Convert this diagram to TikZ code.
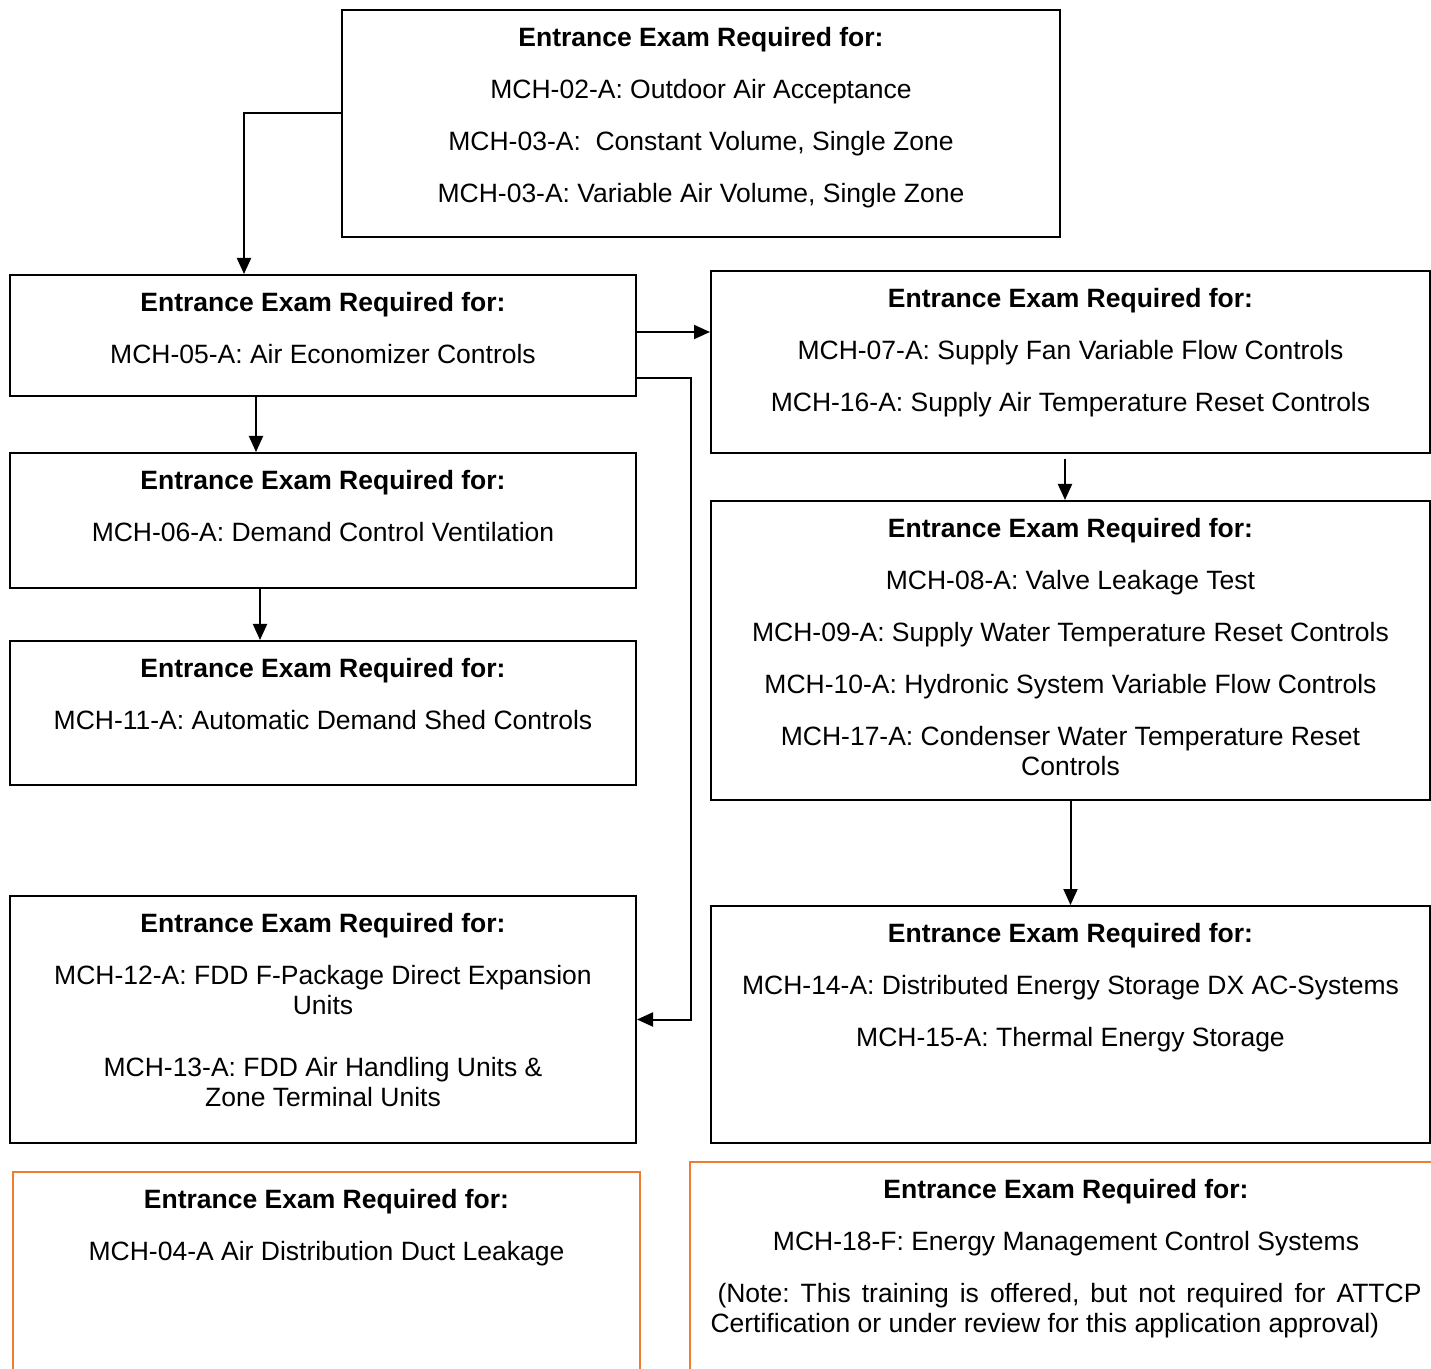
\documentclass[tikz,border=0pt]{standalone}
\usepackage{fontspec}
\setmainfont{Liberation Sans}
\usepackage{tikz}
\usetikzlibrary{arrows.meta, positioning, calc}
\definecolor{optional}{RGB}{237, 125, 49}
\newcommand{\examhead}{\textbf{Entrance Exam Required for:}}
\frenchspacing

\begin{document}
\begin{tikzpicture}[x=0.5pt, y=-0.5pt,
    exambox/.style={draw=black, line width=1pt, inner sep=0pt},
    optbox/.style={draw=optional, line width=1pt, inner sep=0pt},
    examtext/.style={anchor=north, inner sep=0pt, yshift=-8.75pt, align=center,
      font=\fontsize{13.25}{15}\selectfont},
    arr/.style={line width=1pt, -{Triangle[length=8pt, width=7pt]}}]
  \clip (0, 0) rectangle (1431, 1369);

  % Top box
  \node[exambox, minimum width=359pt, minimum height=113.5pt] (A) at (701, 123.5) {};
  \node[examtext] (Atext) at (A.north) {\examhead\\[11pt]
    MCH-02-A: Outdoor Air Acceptance\\[11pt]
    MCH-03-A:\ \ Constant Volume, Single Zone\\[11pt]
    MCH-03-A: Variable Air Volume, Single Zone};

  % Left column
  \node[exambox, minimum width=313pt, minimum height=60.5pt] (B) at (323, 335.5) {};
  \node[examtext] (Btext) at (B.north) {\examhead\\[11pt]
    MCH-05-A: Air Economizer Controls};

  \node[exambox, minimum width=313pt, minimum height=67.5pt] (D) at (323, 520.5) {};
  \node[examtext] (Dtext) at (D.north) {\examhead\\[11pt]
    MCH-06-A: Demand Control Ventilation};

  \node[exambox, minimum width=313pt, minimum height=72pt] (F) at (323, 713) {};
  \node[examtext] (Ftext) at (F.north) {\examhead\\[11pt]
    MCH-11-A: Automatic Demand Shed Controls};

  \node[exambox, minimum width=313pt, minimum height=123.5pt] (G) at (323, 1019.5) {};
  \node[examtext] (Gtext) at (G.north) {\examhead\\[11pt]
    MCH-12-A: FDD F-Package Direct Expansion\\Units\\[16pt]
    MCH-13-A: FDD Air Handling Units \&\\Zone Terminal Units};

  % Right column
  \node[exambox, minimum width=359.5pt, minimum height=91pt] (C) at (1070.5, 362) {};
  \node[examtext] (Ctext) at (C.north) {\examhead\\[11pt]
    MCH-07-A: Supply Fan Variable Flow Controls\\[11pt]
    MCH-16-A: Supply Air Temperature Reset Controls};

  \node[exambox, minimum width=359.5pt, minimum height=149.5pt] (E) at (1070.5, 650.5) {};
  \node[examtext] (Etext) at (E.north) {\examhead\\[11pt]
    MCH-08-A: Valve Leakage Test\\[11pt]
    MCH-09-A: Supply Water Temperature Reset Controls\\[11pt]
    MCH-10-A: Hydronic System Variable Flow Controls\\[11pt]
    MCH-17-A: Condenser Water Temperature Reset\\Controls};

  \node[exambox, minimum width=359.5pt, minimum height=118.5pt] (H) at (1070.5, 1024.5) {};
  \node[examtext] (Htext) at (H.north) {\examhead\\[11pt]
    MCH-14-A: Distributed Energy Storage DX AC-Systems\\[11pt]
    MCH-15-A: Thermal Energy Storage};

  % Optional (orange) boxes
  \node[optbox, minimum width=313.5pt, minimum height=109pt] (I) at (326.5, 1281) {};
  \node[examtext] (Itext) at (I.north) {\examhead\\[11pt]
    MCH-04-A Air Distribution Duct Leakage};

  \node[optbox, minimum width=377.5pt, minimum height=114pt] (J) at (1067.5, 1276) {};
  \node[examtext] (Jtext) at ([xshift=-0.75pt]J.north) {\examhead\\[11pt]
    MCH-18-F: Energy Management Control Systems\\[11pt]
    \parbox[t]{355.5pt}{\hspace*{3.5pt}(Note: This training is offered, but not required for ATTCP\linebreak
      Certification or under review for this application approval)}};

  % Connectors
  \draw[arr] ([yshift=5.25pt]A.west) -| ([xshift=-39.5pt]B.north);
  \coordinate (bc) at ([yshift=1.75pt]B.east);
  \draw[arr] (bc) -- (bc -| C.west);
  \draw[arr] ([yshift=-21.25pt]B.east) -- ++(27pt, 0) |- (G.east);
  \draw[arr] ([xshift=-33.5pt]B.south) -- ([xshift=-33.5pt]D.north);
  \draw[arr] ([xshift=-31.5pt]D.south) -- ([xshift=-31.5pt]F.north);
  \draw[arr] ([xshift=-2.75pt, yshift=-2.5pt]C.south) -- ([xshift=-2.75pt]E.north);
  \draw[arr] (E.south) -- (H.north);
\end{tikzpicture}
\end{document}
